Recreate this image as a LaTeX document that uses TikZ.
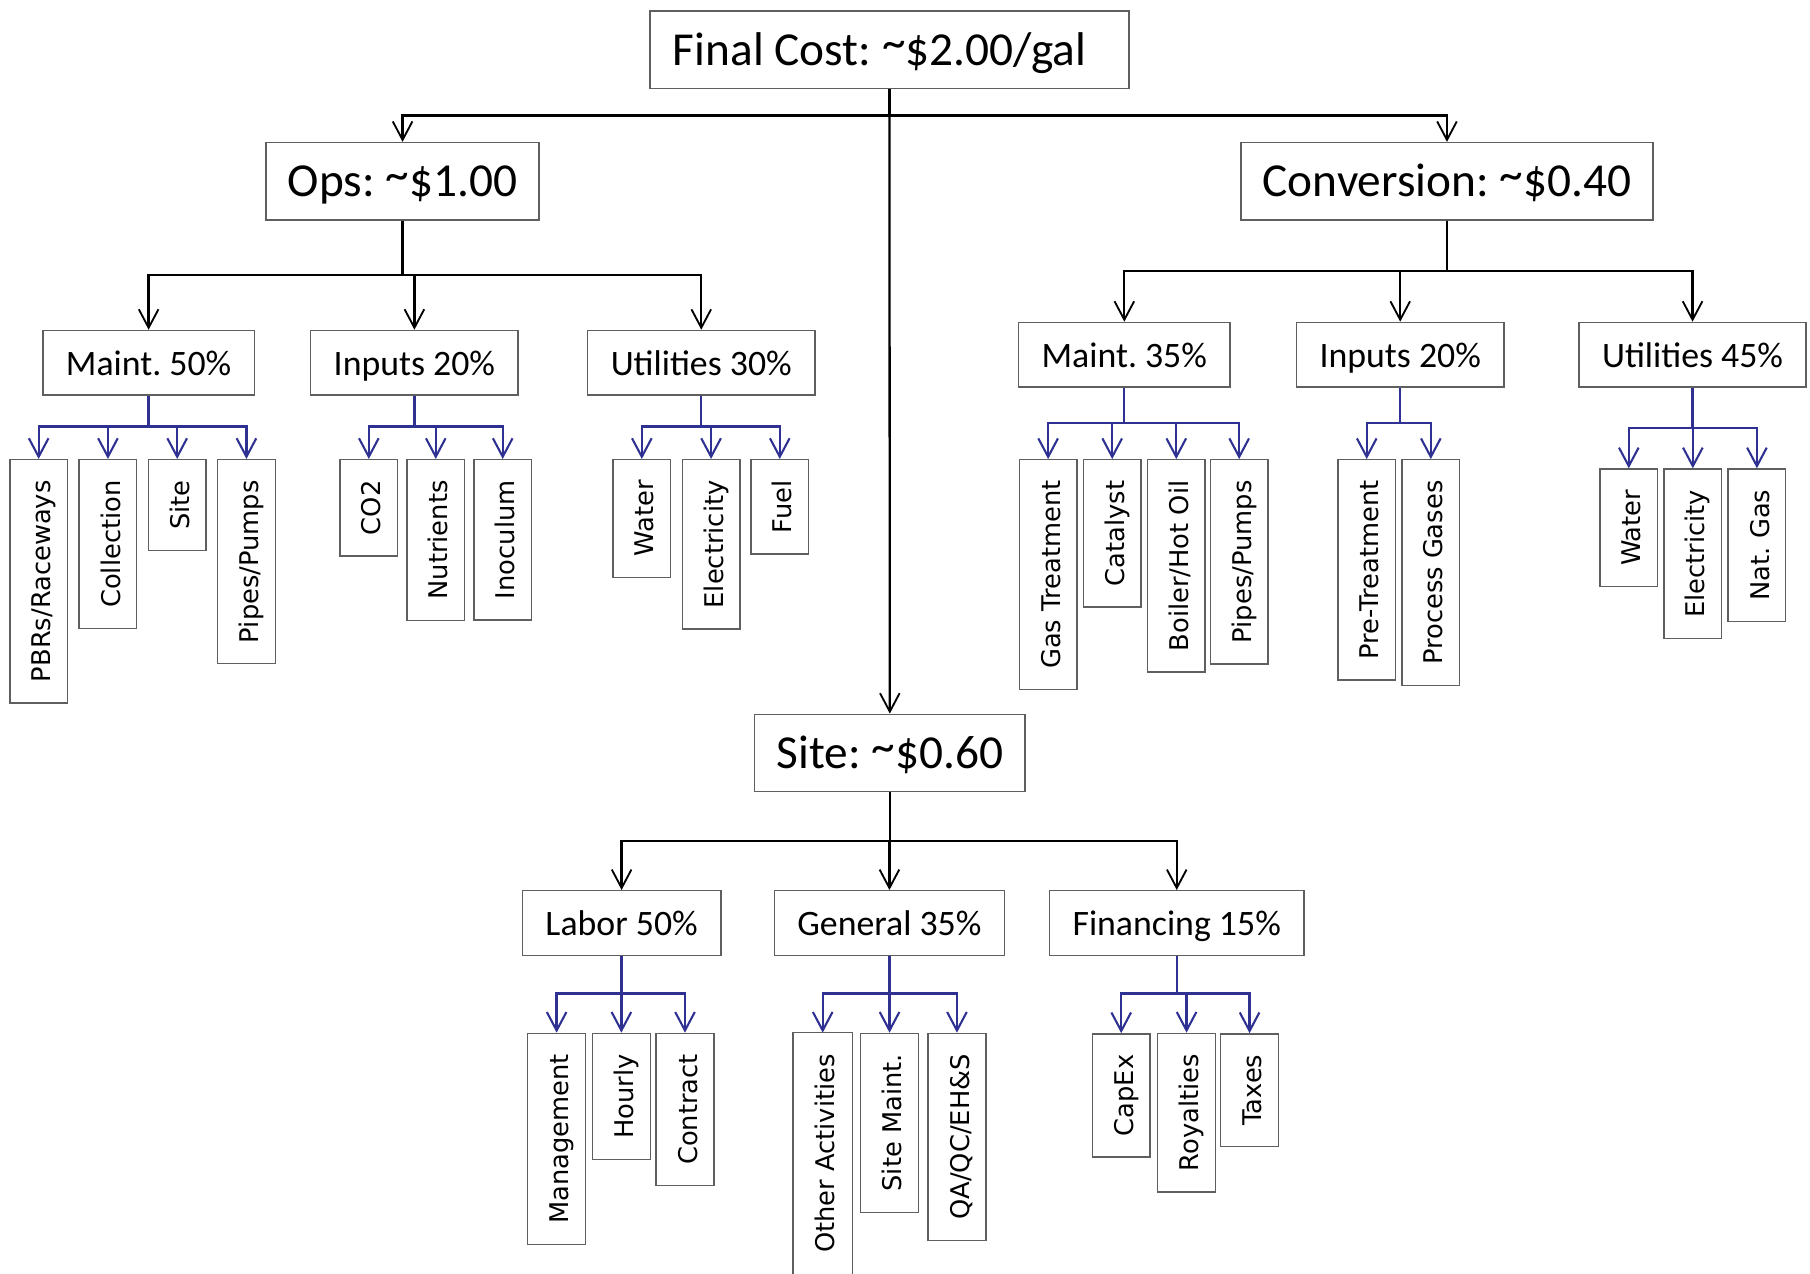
\documentclass[tikz,border=0pt]{standalone}
\usepackage{fontspec}
\setmainfont{Carlito}
\newfontfamily\leaffont{DejaVu Sans}
\usetikzlibrary{arrows.meta,calc}
\definecolor{lblue}{RGB}{46,49,146}
\definecolor{boxgray}{RGB}{95,95,95}
\newcommand\mytld{\raisebox{0.13em}{\textasciitilde}}
\frenchspacing
\tikzset{
  box/.style={draw=boxgray, line width=1.2pt, fill=white, text=black},
  topbox/.style={box, font=\fontsize{41}{49}\selectfont, minimum height=67pt, inner xsep=19pt, inner ysep=0pt, text height=34pt, text depth=7.2pt},
  midbox/.style={box, font=\fontsize{31}{37}\selectfont, minimum height=56pt, inner xsep=20pt, inner ysep=0pt, text height=27pt, text depth=5.5pt},
  leaf/.style={box, font=\leaffont\fontsize{22.3}{26}\selectfont, rotate=90, anchor=east, minimum height=50pt, inner xsep=18pt, inner ysep=0pt, text height=26pt, text depth=5pt},
  conn/.style={line width=2pt, black, -{Straight Barb[length=16pt,width=17pt,line width=1.6pt]}},
  bconn/.style={line width=2pt, lblue, -{Straight Barb[length=16pt,width=17pt,line width=1.8pt]}}
}
\begin{document}
\begin{tikzpicture}[x=1pt,y=-1pt]
\useasboundingbox (0,0) rectangle (1568,1103);
\fill[white] (0,0) rectangle (1568,1103);
% top level
\node[topbox, inner xsep=20pt] (fc) at (770.5,43) {\makebox[375pt][l]{Final Cost: \mytld\$2.00/gal}};
\node[topbox] (ops) at (348.75,157) {Ops: \mytld\$1.00};
\node[topbox] (conv) at (1253.5,157) {Conversion: \mytld\$0.40};
\node[topbox] (site) at (770.85,652.3) {Site: \mytld\$0.60};
% second level
\node[midbox] (om) at (128.75,314.25) {Maint. 50\%};
\node[midbox] (oi) at (359,314.25) {Inputs 20\%};
\node[midbox] (ou) at (607.5,314.25) {Utilities 30\%};
\node[midbox] (cm) at (974,307.3) {Maint. 35\%};
\node[midbox] (ci) at (1213,307.3) {Inputs 20\%};
\node[midbox] (cu) at (1466.25,307.3) {Utilities 45\%};
\node[midbox] (sl) at (538.5,799.6) {Labor 50\%};
\node[midbox] (sg) at (770.5,799.6) {General 35\%};
\node[midbox] (sf) at (1019.4,799.6) {Financing 15\%};
% leaves
\node[leaf] (om1) at (33.5,397.6) {PBRs/Raceways};
\node[leaf] (om2) at (93.5,397.6) {Collection};
\node[leaf] (om3) at (153.5,397.6) {Site};
\node[leaf] (om4) at (213.5,397.6) {Pipes/Pumps};
\node[leaf] (oi1) at (319.5,397.6) {CO2};
\node[leaf] (oi2) at (377.5,397.6) {Nutrients};
\node[leaf] (oi3) at (435.5,397.6) {Inoculum};
\node[leaf] (ou1) at (556,397.6) {Water};
\node[leaf] (ou2) at (616,397.6) {Electricity};
\node[leaf] (ou3) at (675.5,397.6) {Fuel};
\node[leaf] (cm1) at (908,397.7) {Gas Treatment};
\node[leaf] (cm2) at (963.5,397.7) {Catalyst};
\node[leaf] (cm3) at (1019,397.7) {Boiler/Hot Oil};
\node[leaf] (cm4) at (1073.5,397.7) {Pipes/Pumps};
\node[leaf] (ci1) at (1184,397.7) {Pre-Treatment};
\node[leaf] (ci2) at (1239.5,397.7) {Process Gases};
\node[leaf] (cu1) at (1411,405.7) {Water};
\node[leaf] (cu2) at (1466.5,405.7) {Electricity};
\node[leaf] (cu3) at (1522,405.7) {Nat. Gas};
\node[leaf] (sl1) at (482.2,894.6) {Management};
\node[leaf] (sl2) at (538.3,894.6) {Hourly};
\node[leaf] (sl3) at (593.4,894.6) {Contract};
\node[leaf, draw=none] (sg1) at (712.7,894.6) {Other Activities};
\draw[draw=boxgray, line width=1.2pt] ($(sg1.north west)+(0,40)$) -- (sg1.north east) -- (sg1.south east) -- ($(sg1.south west)+(0,40)$);
\node[leaf] (sg2) at (770.6,894.6) {Site Maint.};
\node[leaf] (sg3) at (829,894.6) {QA/QC/EH\&S};
\node[leaf] (sf1) at (971.3,895) {CapEx};
\node[leaf] (sf2) at (1027.9,894.6) {Royalties};
\node[leaf] (sf3) at (1082.5,895) {Taxes};
% bus coordinates
\coordinate (broot) at (770,100);
\coordinate (bops) at (348,238);
\coordinate (bconv) at (1253,235);
\coordinate (bsite) at (771,728.3);
\coordinate (bom) at (129,369.6);
\coordinate (boi) at (359,369.6);
\coordinate (bou) at (607,369.6);
\coordinate (bcm) at (974,366.7);
\coordinate (bci) at (1213,366.7);
\coordinate (bcu) at (1466,370.5);
\coordinate (bsl) at (538,860.7);
\coordinate (bsg) at (770,860.7);
\coordinate (bsf) at (1019,860.7);
% black connectors
\draw[conn] (fc.south) -- (fc.south |- broot) -| (ops.north);
\draw[conn] (fc.south) -- (fc.south |- broot) -| (conv.north);
\draw[conn] (fc.south) -- (site.north);
\foreach \c in {om,oi,ou} \draw[conn] (ops.south) -- (ops.south |- bops) -| (\c.north);
\foreach \c in {cm,ci,cu} \draw[conn] (conv.south) -- (conv.south |- bconv) -| (\c.north);
\foreach \c in {sl,sg,sf} \draw[conn] (site.south) -- (site.south |- bsite) -| (\c.north);
% blue connectors
\foreach \c in {om1,om2,om3,om4} \draw[bconn] (om.south) -- (om.south |- bom) -| (\c.east);
\foreach \c in {oi1,oi2,oi3} \draw[bconn] (oi.south) -- (oi.south |- boi) -| (\c.east);
\foreach \c in {ou1,ou2,ou3} \draw[bconn] (ou.south) -- (ou.south |- bou) -| (\c.east);
\foreach \c in {cm1,cm2,cm3,cm4} \draw[bconn] (cm.south) -- (cm.south |- bcm) -| (\c.east);
\foreach \c in {ci1,ci2} \draw[bconn] (ci.south) -- (ci.south |- bci) -| (\c.east);
\foreach \c in {cu1,cu2,cu3} \draw[bconn] (cu.south) -- (cu.south |- bcu) -| (\c.east);
\foreach \c in {sl1,sl2,sl3} \draw[bconn] (sl.south) -- (sl.south |- bsl) -| (\c.east);
\foreach \c in {sg1,sg2,sg3} \draw[bconn] (sg.south) -- (sg.south |- bsg) -| (\c.east);
\foreach \c in {sf1,sf2,sf3} \draw[bconn] (sf.south) -- (sf.south |- bsf) -| (\c.east);
\end{tikzpicture}
\end{document}
